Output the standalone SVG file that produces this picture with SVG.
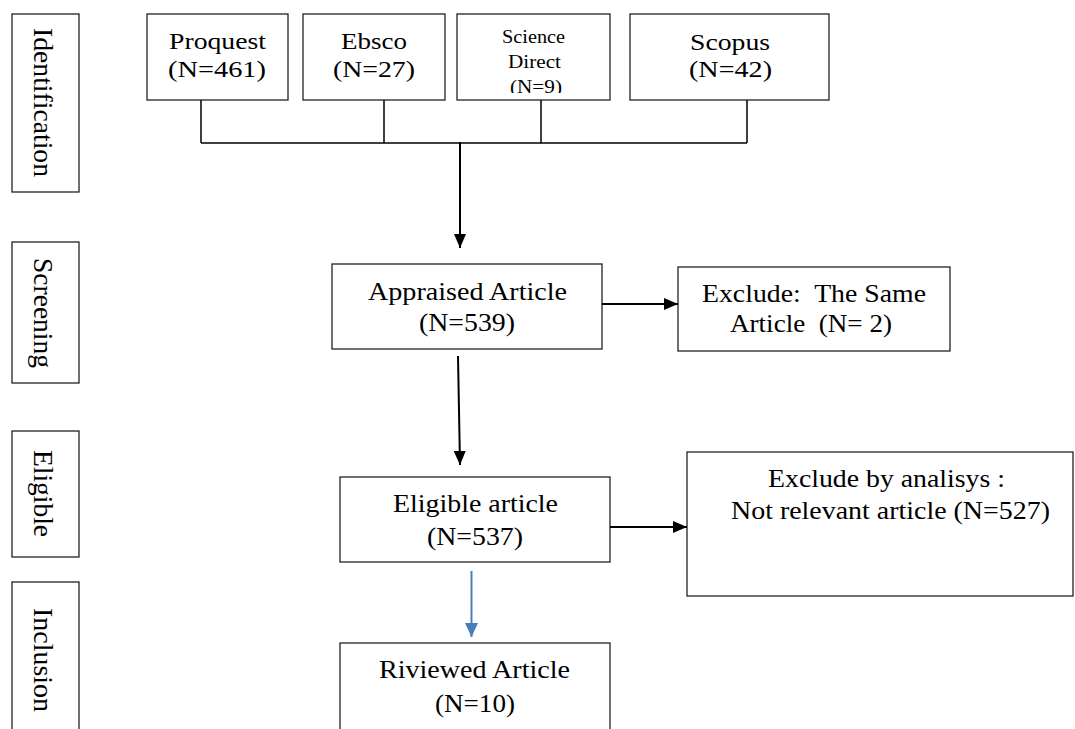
<svg xmlns="http://www.w3.org/2000/svg" width="1075" height="729" viewBox="0 0 1075 729">
<defs>
<style>
.box{fill:#fff;stroke:#222;stroke-width:1.3}
.t{font-family:"Liberation Serif","Times New Roman",serif;fill:#000;text-anchor:start}
.lg{font-size:26px}
.md{font-size:23px}
.sm{font-size:18px}
.vt{font-family:"Liberation Serif","Times New Roman",serif;font-size:28px;fill:#000;text-anchor:middle}
.ln{fill:none;stroke:#000;stroke-width:1.5}
.ar{fill:none;stroke:#000;stroke-width:2}
.bl{fill:none;stroke:#4a7ebb;stroke-width:2}
</style>
<marker id="ah" markerWidth="14" markerHeight="12" refX="14" refY="6" orient="auto" markerUnits="userSpaceOnUse"><path d="M0,0 L14,6 L0,12 Z" fill="#000"/></marker>
<marker id="ahb" markerWidth="14" markerHeight="13" refX="14" refY="6.5" orient="auto" markerUnits="userSpaceOnUse"><path d="M0,0 L14,6.5 L0,13 Z" fill="#4a7ebb"/></marker>
<clipPath id="sdclip"><rect x="457" y="14" width="153" height="79"/></clipPath>
</defs>

<g id="stage-identification">
<rect class="box" x="12" y="14" width="67" height="178"/>
<text class="vt" transform="translate(33.5,102.5) rotate(90)" textLength="149" lengthAdjust="spacingAndGlyphs">Identification</text>
</g>
<g id="stage-screening">
<rect class="box" x="12" y="242" width="67" height="141"/>
<text class="vt" transform="translate(33.5,313) rotate(90)" textLength="110" lengthAdjust="spacingAndGlyphs">Screening</text>
</g>
<g id="stage-eligible">
<rect class="box" x="12" y="431" width="67" height="126"/>
<text class="vt" transform="translate(33.5,493.5) rotate(90)" textLength="87" lengthAdjust="spacingAndGlyphs">Eligible</text>
</g>
<g id="stage-inclusion">
<rect class="box" x="12" y="582" width="67" height="160"/>
<text class="vt" transform="translate(33.5,660) rotate(90)" textLength="104" lengthAdjust="spacingAndGlyphs">Inclusion</text>
</g>

<g id="proquest">
<rect class="box" x="147" y="14" width="141" height="86"/>
<text class="t md" x="169" y="49" textLength="97" lengthAdjust="spacingAndGlyphs">Proquest</text>
<text class="t md" x="168" y="77" textLength="98" lengthAdjust="spacingAndGlyphs">(N=461)</text>
</g>
<g id="ebsco">
<rect class="box" x="303" y="14" width="142" height="86"/>
<text class="t md" x="341" y="49" textLength="66" lengthAdjust="spacingAndGlyphs">Ebsco</text>
<text class="t md" x="333" y="77" textLength="82" lengthAdjust="spacingAndGlyphs">(N=27)</text>
</g>
<g id="science-direct">
<rect class="box" x="457" y="14" width="153" height="86"/>
<g clip-path="url(#sdclip)">
<text class="t sm" x="502" y="43" textLength="63" lengthAdjust="spacingAndGlyphs">Science</text>
<text class="t sm" x="508" y="68" textLength="53" lengthAdjust="spacingAndGlyphs">Direct</text>
<text class="t sm" x="510" y="92.5" textLength="52" lengthAdjust="spacingAndGlyphs">(N=9)</text>
</g>
</g>
<g id="scopus">
<rect class="box" x="630" y="14" width="199" height="86"/>
<text class="t md" x="690" y="50" textLength="80" lengthAdjust="spacingAndGlyphs">Scopus</text>
<text class="t md" x="689" y="77" textLength="83" lengthAdjust="spacingAndGlyphs">(N=42)</text>
</g>

<g id="appraised">
<rect class="box" x="332" y="264" width="270" height="85"/>
<text class="t lg" x="368" y="299.5" textLength="199" lengthAdjust="spacingAndGlyphs">Appraised Article</text>
<text class="t lg" x="419" y="331" textLength="96" lengthAdjust="spacingAndGlyphs">(N=539)</text>
</g>
<g id="exclude-same">
<rect class="box" x="678" y="267" width="272" height="84"/>
<text class="t lg" x="702" y="302" textLength="224" lengthAdjust="spacingAndGlyphs" xml:space="preserve">Exclude:  The Same</text>
<text class="t lg" x="730" y="332" textLength="162" lengthAdjust="spacingAndGlyphs" xml:space="preserve">Article  (N= 2)</text>
</g>
<g id="eligible">
<rect class="box" x="340" y="477" width="270" height="85"/>
<text class="t lg" x="393" y="511.5" textLength="165" lengthAdjust="spacingAndGlyphs">Eligible article</text>
<text class="t lg" x="427" y="545" textLength="96" lengthAdjust="spacingAndGlyphs">(N=537)</text>
</g>
<g id="exclude-analysis">
<rect class="box" x="687" y="452" width="386" height="144"/>
<text class="t lg" x="768" y="486.5" textLength="237" lengthAdjust="spacingAndGlyphs">Exclude by analisys :</text>
<text class="t lg" x="731" y="518.5" textLength="319" lengthAdjust="spacingAndGlyphs">Not relevant article (N=527)</text>
</g>
<g id="reviewed">
<rect class="box" x="340" y="643" width="270" height="100"/>
<text class="t lg" x="379" y="678" textLength="191" lengthAdjust="spacingAndGlyphs">Riviewed Article</text>
<text class="t lg" x="435" y="712" textLength="80" lengthAdjust="spacingAndGlyphs">(N=10)</text>
</g>

<g id="connectors">
<path class="ln" d="M201,100 V143 M384,100 V143 M541,100 V143 M747,100 V143 M201,143 H747"/>
<line class="ar" x1="460" y1="142" x2="460" y2="248" marker-end="url(#ah)"/>
<line class="ar" x1="602" y1="304" x2="678" y2="304" marker-end="url(#ah)"/>
<line class="ar" x1="458" y1="356" x2="460" y2="465" marker-end="url(#ah)"/>
<line class="ar" x1="610" y1="527" x2="687" y2="527" marker-end="url(#ah)"/>
<line class="bl" x1="471.5" y1="571" x2="471.5" y2="637" marker-end="url(#ahb)"/>
</g>
</svg>
